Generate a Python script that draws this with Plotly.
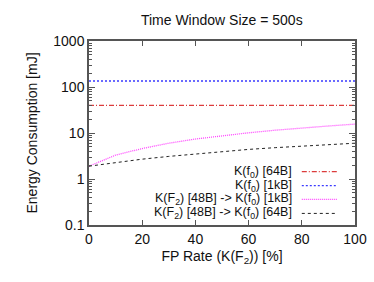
import plotly.graph_objects as go

fp_rate = [0, 10, 20, 30, 40, 50, 60, 70, 80, 90, 100]
k_f0_64b = [40] * 11
k_f0_1kb = [135] * 11
k_f2_to_1kb = [1.9, 3.3, 4.6, 6.0, 7.4, 8.8, 10.1, 11.5, 12.9, 14.2, 15.6]
k_f2_to_64b = [1.9, 2.3, 2.7, 3.1, 3.5, 4.0, 4.4, 4.8, 5.2, 5.6, 6.0]

names = ["K(f<sub>0</sub>) [64B]", "K(f<sub>0</sub>) [1kB]",
         "K(F<sub>2</sub>) [48B] -> K(f<sub>0</sub>) [1kB]",
         "K(F<sub>2</sub>) [48B] -> K(f<sub>0</sub>) [64B]"]
series = [k_f0_64b, k_f0_1kb, k_f2_to_1kb, k_f2_to_64b]
colors = ["#dc3c3c", "#3a3aff", "#ff44ff", "#222222"]
dashes = ["5px,2px,1px,2px", "2px,2px", "1px,1px", "3px,3px"]
widths = [1.3, 1.3, 1.3, 1]

fig = go.Figure()
for n, s, c, d, w in zip(names, series, colors, dashes, widths):
    fig.add_trace(go.Scatter(x=fp_rate, y=s, mode="lines", name=n,
                             line=dict(color=c, dash=d, width=w), showlegend=False))

font = dict(family="Liberation Sans, Arial, sans-serif", size=14, color="#111")
leg_font = dict(family="Liberation Sans, Arial, sans-serif", size=12.5, color="#111")

# manual legend (text right-aligned, sample to the right)
leg_y = [0.290, 0.214, 0.139, 0.063]
for n, c, d, w, yy in zip(names, colors, dashes, widths, leg_y):
    fig.add_annotation(x=0.767, y=yy, xref="paper", yref="paper", text=n,
                       showarrow=False, xanchor="right", yanchor="middle",
                       font=leg_font, borderpad=0)
    fig.add_shape(type="line", xref="paper", yref="paper",
                  x0=0.80, x1=0.932, y0=yy, y1=yy,
                  line=dict(color=c, dash=d, width=w))

axis_common = dict(showline=True, linecolor="#555", linewidth=1.5, mirror="ticks",
                   ticks="inside", tickcolor="#555", showgrid=False, zeroline=False,
                   tickfont=font, automargin=False)

fig.update_layout(
    width=374, height=282,
    margin=dict(l=89, r=19, t=41, b=57),
    paper_bgcolor="white", plot_bgcolor="white",
    title=dict(text="Time Window Size = 500s", x=0.593, xanchor="center",
               y=0.93, yanchor="middle", font=font),
    font=font,
    xaxis=dict(range=[0, 100], tickvals=[0, 20, 40, 60, 80, 100], ticklen=5,
               title=dict(text="FP Rate (K(F<sub>2</sub>)) [%]", font=font, standoff=6),
               **axis_common),
    yaxis=dict(type="log", range=[-1, 3], tickvals=[0.1, 1, 10, 100, 1000],
               ticktext=["0.1", "1", "10", "100", "1000"], ticklen=6,
               minor=dict(ticks="inside", ticklen=3, tickcolor="#555",
                          tickvals=[v * m for v in [0.1, 1, 10, 100] for m in range(2, 10)]),
               title=dict(text="Energy Consumption [mJ]", font=font, standoff=12),
               **axis_common),
)

fig.write_html("out.html", config={"displayModeBar": False},
               post_script="document.body.style.margin='0';")
